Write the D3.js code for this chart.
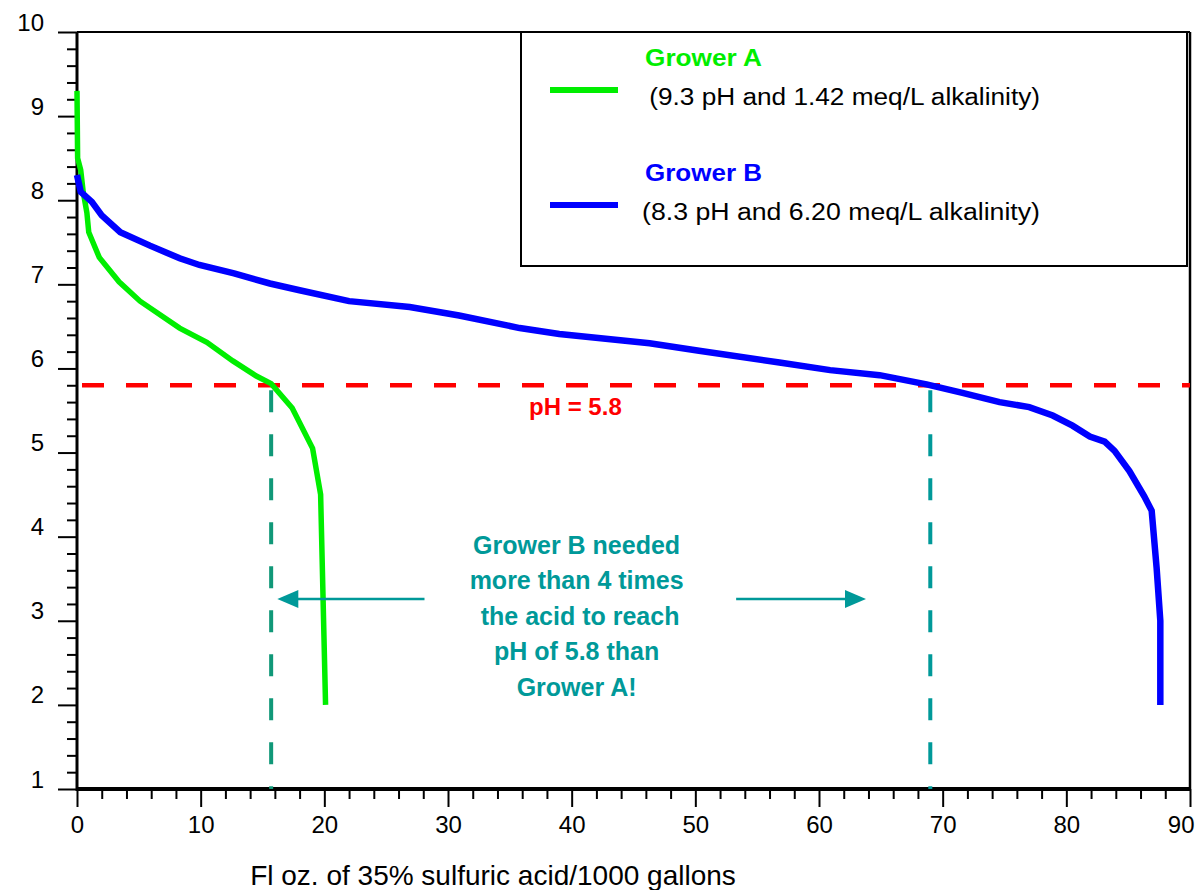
<!DOCTYPE html>
<html>
<head>
<meta charset="utf-8">
<script src="https://cdn.jsdelivr.net/npm/d3@7"></script>
<style>
  body { margin: 0; background: #fff; }
  svg { display: block; font-family: "Liberation Sans", Arial, sans-serif; }
</style>
</head>
<body>
<svg id="chart" width="1198" height="890"></svg>
<script>
// titration curves: [fl oz acid, pH]
var growerA = [
    [0, 9.3], [0.05, 8.5], [0.3, 8.36], [0.5, 8.1], [0.8, 7.85], [0.95, 7.62],
    [1.8, 7.32], [3.4, 7.03], [5.1, 6.8], [8.3, 6.48], [10.5, 6.31], [12.6, 6.09],
    [14.5, 5.91], [15.7, 5.82], [17.4, 5.53], [19.05, 5.05], [19.7, 4.5], [20.1, 2.0]
];
var growerB = [
    [0, 8.3], [0.3, 8.1], [1.2, 7.98], [2.0, 7.82], [3.5, 7.62], [5.9, 7.46],
    [8.3, 7.31], [9.9, 7.23], [12.7, 7.13], [15.6, 7.01], [18, 6.93], [22, 6.8],
    [26.9, 6.73], [30.9, 6.63], [35.8, 6.48], [39, 6.41], [46.3, 6.3], [50.3, 6.21],
    [56.8, 6.07], [60.9, 5.98], [64.9, 5.92], [68.7, 5.81], [71.6, 5.71], [74.6, 5.6],
    [77, 5.54], [78.9, 5.44], [80.5, 5.32], [81.9, 5.19], [83.1, 5.13], [83.9, 5.02],
    [85.1, 4.78], [86.3, 4.48], [86.9, 4.31], [87.3, 3.63], [87.6, 3.0], [87.6, 2.0]
];
var targetPH = 5.8;
var crossA = 15.7;   // where grower A reaches 5.8
var crossB = 69;     // where grower B reaches 5.8

var xTicks = [0, 10, 20, 30, 40, 50, 60, 70, 80, 90];
var yTicks = [1, 2, 3, 4, 5, 6, 7, 8, 9, 10];

var legendItems = [
    {name: 'Grower A', note: ' (9.3 pH and 1.42 meq/L alkalinity)', color: '#00ee00'},
    {name: 'Grower B', note: '(8.3 pH and 6.20 meq/L alkalinity)', color: '#0000ff'}
];
var noteLines = ['Grower B needed', 'more than 4 times', ' the acid to reach', 'pH of 5.8 than', 'Grower A!'];

var TEAL = '#009999';
var FONT = '"Liberation Sans", Arial, sans-serif';

var svg = d3.select('#chart');
var m = {left: 77, right: 1190, top: 32, bottom: 789};

var x = d3.scaleLinear().domain([0, 90]).range([m.left, m.right]);
var y = d3.scaleLinear().domain([1, 10]).range([m.bottom, m.top]);

// minor ticks first, then the major ones with labels
var yMinor = d3.range(1, 10.001, 0.2).filter(function(v){ return Math.abs(v - Math.round(v)) > 0.01; });
var xMinor = d3.range(0, 90.001, 2).filter(function(v){ return v % 10 !== 0; });

svg.append('g')
    .attr('transform', 'translate(' + m.left + ',0)')
    .call(d3.axisLeft(y).tickValues(yMinor).tickSize(10).tickFormat(''))
    .call(function(g){ g.select('.domain').remove(); g.selectAll('line').attr('stroke-width', 2); });

svg.append('g')
    .attr('transform', 'translate(' + m.left + ',0)')
    .call(d3.axisLeft(y).tickValues(yTicks).tickSize(19).tickPadding(14).tickFormat(d3.format('d')))
    .call(function(g){
        g.select('.domain').remove();
        g.selectAll('line').attr('stroke-width', 2);
        g.selectAll('text').attr('font-size', 24).attr('fill', '#000').attr('dy', '-0.08em')
            .attr('font-family', FONT);
    });

svg.append('g')
    .attr('transform', 'translate(0,' + m.bottom + ')')
    .call(d3.axisBottom(x).tickValues(xMinor).tickSize(10).tickFormat(''))
    .call(function(g){ g.select('.domain').remove(); g.selectAll('line').attr('stroke-width', 2); });

svg.append('g')
    .attr('transform', 'translate(0,' + m.bottom + ')')
    .call(d3.axisBottom(x).tickValues(xTicks).tickSize(18).tickPadding(9).tickFormat(d3.format('d')))
    .call(function(g){
        g.select('.domain').remove();
        g.selectAll('line').attr('stroke-width', 2);
        g.selectAll('text').attr('font-size', 24).attr('fill', '#000').attr('font-family', FONT);
        // keep the last label inside the picture
        g.selectAll('.tick').filter(function(d){ return d === 90; }).select('text')
            .attr('text-anchor', 'end').attr('dx', 4);
    });

// frame
svg.append('line').attr('x1', m.left).attr('x2', m.right).attr('y1', m.top).attr('y2', m.top)
    .attr('stroke', '#000').attr('stroke-width', 2);
svg.append('line').attr('x1', m.right).attr('x2', m.right).attr('y1', m.top).attr('y2', m.bottom)
    .attr('stroke', '#000').attr('stroke-width', 2.5);
svg.append('line').attr('x1', m.left).attr('x2', m.left).attr('y1', m.top).attr('y2', m.bottom + 2)
    .attr('stroke', '#000').attr('stroke-width', 3);
svg.append('line').attr('x1', m.left - 1).attr('x2', m.right + 1).attr('y1', m.bottom).attr('y2', m.bottom)
    .attr('stroke', '#000').attr('stroke-width', 4);

svg.append('text')
    .attr('x', 493).attr('y', 885)
    .attr('text-anchor', 'middle')
    .attr('font-size', 28)
    .text('Fl oz. of 35% sulfuric acid/1000 gallons');

// target pH and where each grower hits it
svg.append('line')
    .attr('x1', x(0)).attr('x2', x(90)).attr('y1', y(targetPH)).attr('y2', y(targetPH))
    .attr('stroke', '#ff0000').attr('stroke-width', 4.5)
    .attr('stroke-dasharray', '22,22').attr('stroke-dashoffset', 39);

svg.append('text')
    .attr('x', x(40.3)).attr('y', y(targetPH) + 30)
    .attr('text-anchor', 'middle')
    .attr('font-size', 24).attr('font-weight', 'bold').attr('fill', '#ff0000')
    .text('pH = 5.8');

[[crossA, '#109878'], [crossB, TEAL]].forEach(function(c){
    svg.append('line')
        .attr('x1', x(c[0])).attr('x2', x(c[0]))
        .attr('y1', y(targetPH)).attr('y2', y(1))
        .attr('stroke', c[1]).attr('stroke-width', 4)
        .attr('stroke-dasharray', '22,22').attr('stroke-dashoffset', 39);
});

var line = d3.line().x(function(d){ return x(d[0]); }).y(function(d){ return y(d[1]); });

svg.append('path').datum(growerA)
    .attr('d', line).attr('fill', 'none')
    .attr('stroke', legendItems[0].color).attr('stroke-width', 5.5);

svg.append('path').datum(growerB)
    .attr('d', line).attr('fill', 'none')
    .attr('stroke', legendItems[1].color).attr('stroke-width', 6.5);

// annotation with arrows
var noteY = 3.9;
svg.append('text')
    .attr('x', x(40.4)).attr('y', y(noteY))
    .attr('text-anchor', 'middle')
    .attr('font-size', 25).attr('font-weight', 'bold').attr('fill', TEAL)
    .selectAll('tspan').data(noteLines).enter().append('tspan')
    .attr('x', x(40.4))
    .attr('dy', function(d, i){ return i === 0 ? '0.35em' : 35.5; })
    .attr('xml:space', 'preserve')
    .text(function(d){ return d; });

var arrowY = 3.26;
var arrows = [[28.1, 16.2], [53.3, 63.8]];
arrows.forEach(function(a){
    var x0 = x(a[0]), x1 = x(a[1]), yy = y(arrowY);
    var dir = x1 > x0 ? 1 : -1;
    svg.append('line')
        .attr('x1', x0).attr('x2', x1 - dir * 10).attr('y1', yy).attr('y2', yy)
        .attr('stroke', TEAL).attr('stroke-width', 2.5);
    svg.append('path')
        .attr('d', 'M' + x1 + ',' + yy + 'L' + (x1 - dir * 21) + ',' + (yy - 9) + 'L' + (x1 - dir * 21) + ',' + (yy + 9) + 'Z')
        .attr('fill', TEAL);
});

// legend
var legend = svg.append('g').attr('transform', 'translate(521,32)');
legend.append('rect')
    .attr('width', 666).attr('height', 234)
    .attr('fill', '#fff').attr('stroke', '#000').attr('stroke-width', 2);

legendItems.forEach(function(item, i){
    var g = legend.append('g').attr('transform', 'translate(0,' + (i * 115) + ')');
    g.append('line')
        .attr('x1', 29).attr('x2', 97).attr('y1', 58).attr('y2', 58)
        .attr('stroke', item.color).attr('stroke-width', 6);
    g.append('text')
        .attr('x', 124).attr('y', 34)
        .attr('font-size', 23).attr('font-weight', 'bold').attr('fill', item.color)
        .attr('textLength', 117).attr('lengthAdjust', 'spacingAndGlyphs')
        .text(item.name);
    g.append('text')
        .attr('x', 121).attr('y', 73)
        .attr('font-size', 23).attr('fill', '#000')
        .attr('xml:space', 'preserve')
        .attr('textLength', 398).attr('lengthAdjust', 'spacingAndGlyphs')
        .text(item.note);
});
</script>
</body>
</html>
